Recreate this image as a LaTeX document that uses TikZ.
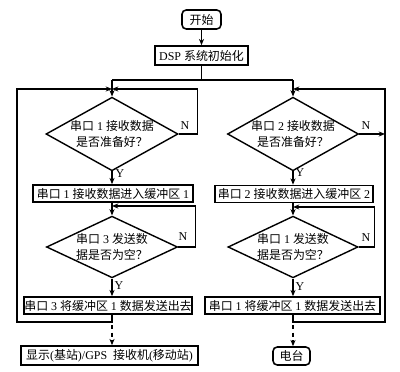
\documentclass[tikz,border=0pt]{standalone}
\usepackage{fontspec}
\setmainfont{Liberation Serif}
\newfontfamily\zh{Noto Sans CJK SC}
\usetikzlibrary{arrows.meta, shapes.geometric}

\tikzset{
    txt/.style={font=\fontsize{8.5}{11}\selectfont},
    proc/.style={txt, draw, line width=1.1pt, inner sep=0pt, minimum height=0.425cm},
    term/.style={proc, rounded corners=3pt},
    decide/.style={txt, draw, diamond, line width=1pt, inner xsep=-10pt, inner ysep=-3pt, align=center},
    arr/.style={-{Stealth[length=4.5pt, width=3.6pt]}},
    lab/.style={txt, inner sep=0pt},
}

\begin{document}
\begin{tikzpicture}[x=0.025cm, y=-0.025cm, line width=0.9pt]
    \useasboundingbox (0,0) rectangle (400,372);

    % Start and init
    \node[term, minimum width=0.975cm, minimum height=0.475cm] (start) at (201.5,19.5) {\zh 开始};
    \node[proc, minimum width=2.325cm, minimum height=0.475cm] (init) at (201.5,55.5) {DSP {\zh 系统初始化}};

    % Left column: port 1 -> port 3
    \node[decide, minimum width=3.3cm, minimum height=1.55cm] (rx1) at (112,134) {{\zh 串口} 1 {\zh 接收数据}\\{\zh 是否准备好？}};
    \node[proc, minimum width=4cm] (buf1) at (113,193.5) {{\zh 串口} 1 {\zh 接收数据进入缓冲区} 1};
    \node[decide, minimum width=3.275cm, minimum height=1.5cm] (tx3) at (112,247) {{\zh 串口} 3 {\zh 发送数}\\{\zh 据是否为空？}};
    \node[proc, minimum width=4.2cm] (send3) at (108,305.5) {{\zh 串口} 3 {\zh 将缓冲区} 1 {\zh 数据发送出去}};
    \node[proc, minimum width=4.425cm, minimum height=0.475cm] (disp) at (109.5,355.5) {{\zh 显示}({\zh 基站})/GPS\ \ {\zh 接收机}({\zh 移动站})};

    % Right column: port 2 -> port 1
    \node[decide, minimum width=3.275cm, minimum height=1.55cm] (rx2) at (293,134) {{\zh 串口} 2 {\zh 接收数据}\\{\zh 是否准备好？}};
    \node[proc, minimum width=3.95cm] (buf2) at (294,194) {{\zh 串口} 2 {\zh 接收数据进入缓冲区} 2};
    \node[decide, minimum width=3.25cm, minimum height=1.5cm] (tx1) at (293,247) {{\zh 串口} 1 {\zh 发送数}\\{\zh 据是否为空？}};
    \node[proc, minimum width=4.375cm] (send1) at (292.5,305.5) {{\zh 串口} 1 {\zh 将缓冲区} 1 {\zh 数据发送出去}};
    \node[term, minimum width=0.925cm, minimum height=0.45cm] (radio) at (291.5,356) {\zh 电台};

    % Junctions
    \coordinate (jL) at (112,80);
    \coordinate (jR) at (293,80);
    \coordinate (m1) at (112,89);
    \coordinate (m2) at (112,206);
    \coordinate (m3) at (293,89);
    \coordinate (m4) at (293,207);
    \coordinate (bL) at (17,322);
    \coordinate (bR) at (385,322);

    % Top
    \draw[arr] (start) -- (init);
    \draw (init.south) -- (init.south |- jL);
    \draw (jL) -- (jR);
    \draw[arr] (jL) -- (rx1.north);
    \draw[arr] (jR) -- (rx2.north);

    % Left loops
    \draw[arr] (rx1.east) -- ++(19,0) |- (m1);
    \draw[arr] (rx1.south) -- (rx1.south |- buf1.north);
    \draw[arr] (buf1.south -| tx3) -- (tx3.north);
    \draw[arr] (tx3.east) -- ++(17,0) |- (m2);
    \draw[arr] (tx3.south) -- (tx3.south |- send3.north);
    \draw[arr] (send3.south -| m1) |- (bL) |- (m1);
    \draw[arr, dash pattern=on 3pt off 2.5pt, dash phase=-2pt] (m1 |- bL) -- (m1 |- disp.north);

    % Right loops
    \draw[arr] (rx2.east) -- (rx2.east -| bR);
    \draw[arr] (rx2.south) -- (rx2.south |- buf2.north);
    \draw[arr] (buf2.south -| tx1) -- (tx1.north);
    \draw[arr] (tx1.east) -- ++(16,0) |- (m4);
    \draw[arr] (tx1.south) -- (tx1.south |- send1.north);
    \draw[arr] (send1.south -| m3) |- (bR) |- (m3);
    \draw[arr, dash pattern=on 3pt off 2.5pt, dash phase=-2pt] (m3 |- bR) -- (m3 |- radio.north);

    % Y / N labels
    \foreach \i/\x/\y in {1/185/126, 2/183/237, 3/366/126, 4/366/238} {
        \node[lab] (n\i) at (\x,\y) {N};
    }
    \foreach \i/\x/\y in {1/120/174, 2/119/286, 3/300/173, 4/300/287} {
        \node[lab] (y\i) at (\x,\y) {Y};
    }
\end{tikzpicture}
\end{document}
